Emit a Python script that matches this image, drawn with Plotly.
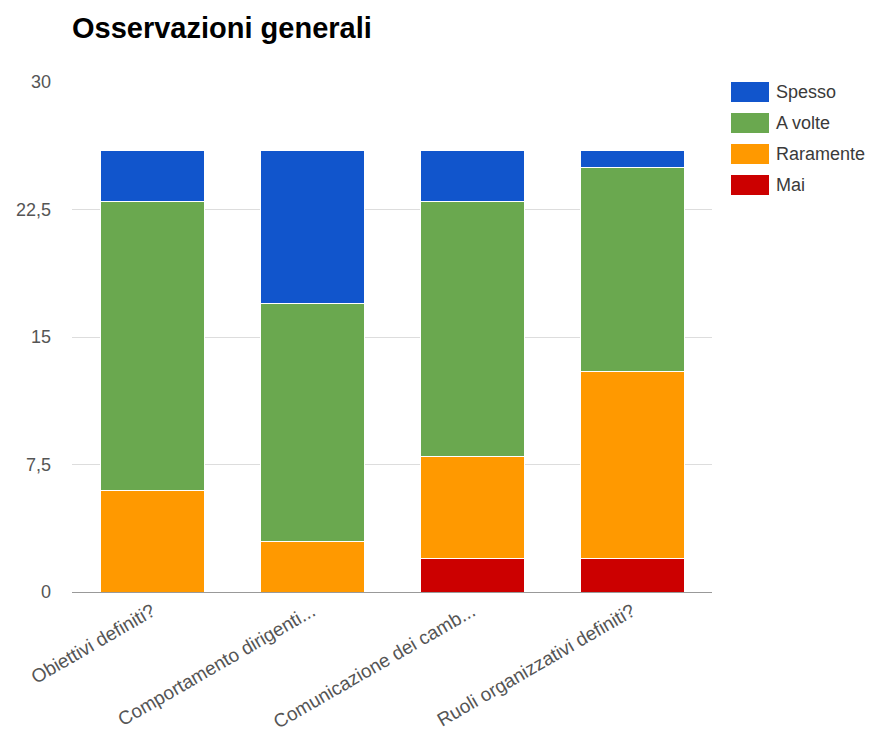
import plotly.graph_objects as go

# Survey answers per question, stacked by frequency
categories = [
    "Obiettivi definiti?",
    "Comportamento dirigenti...",
    "Comunicazione dei camb...",
    "Ruoli organizzativi definiti?",
]
series_names = ["Mai", "Raramente", "A volte", "Spesso"]
mai = [0, 0, 2, 2]
raramente = [6, 3, 6, 11]
a_volte = [17, 14, 15, 12]
spesso = [3, 9, 3, 1]
y_ticks = [0, 7.5, 15, 22.5, 30]

values = [mai, raramente, a_volte, spesso]
colors = ["#CC0000", "#FF9900", "#6AA84F", "#1155CC"]

FONT = "Liberation Sans, Arial, sans-serif"

fig = go.Figure()
for name, vals, col in zip(series_names, values, colors):
    fig.add_trace(go.Bar(
        x=categories, y=vals, name=name,
        marker=dict(color=col, line=dict(color="white", width=1)),
        showlegend=False,
    ))

# Legend drawn as wide swatches with labels, top-down: Spesso, A volte, Raramente, Mai
legend_top = 82
row_h = 31
for i, (name, col) in enumerate(zip(series_names[::-1], colors[::-1])):
    y0 = legend_top + i * row_h
    fig.add_shape(type="rect", xref="paper", yref="paper",
                  x0=(731 - 72) / 640, x1=(769 - 72) / 640,
                  y0=1 - (y0 + 20 - 82) / 510, y1=1 - (y0 - 82) / 510,
                  fillcolor=col, line=dict(width=0))
    fig.add_annotation(xref="paper", yref="paper",
                       x=(774 - 72) / 640, y=1 - (y0 + 10 - 82) / 510,
                       text=name, showarrow=False, xanchor="left", yanchor="middle",
                       font=dict(family=FONT, size=18, color="#3a3a3a"))

fig.update_layout(
    barmode="stack",
    bargap=0.35,
    width=870, height=744,
    margin=dict(l=72, r=158, t=82, b=152),
    paper_bgcolor="white", plot_bgcolor="white",
    separators=",.",
    title=dict(text="<b>Osservazioni generali</b>", x=72 / 870, xanchor="left",
               y=1 - 28 / 744, yanchor="middle",
               font=dict(family=FONT, size=29, color="#000000")),
    font=dict(family=FONT, size=18, color="#555555"),
    xaxis=dict(showgrid=False, tickangle=-30, ticks="", showline=True,
               linecolor="#999999", linewidth=1,
               tickfont=dict(family=FONT, size=19, color="#555555")),
    yaxis=dict(range=[0, 30], tickvals=y_ticks, showgrid=True, gridcolor="#DDDDDD",
               zeroline=False, ticks="", ticklabelstandoff=20,
               tickfont=dict(family=FONT, size=18, color="#555555")),
)

fig.write_html("out.html")
